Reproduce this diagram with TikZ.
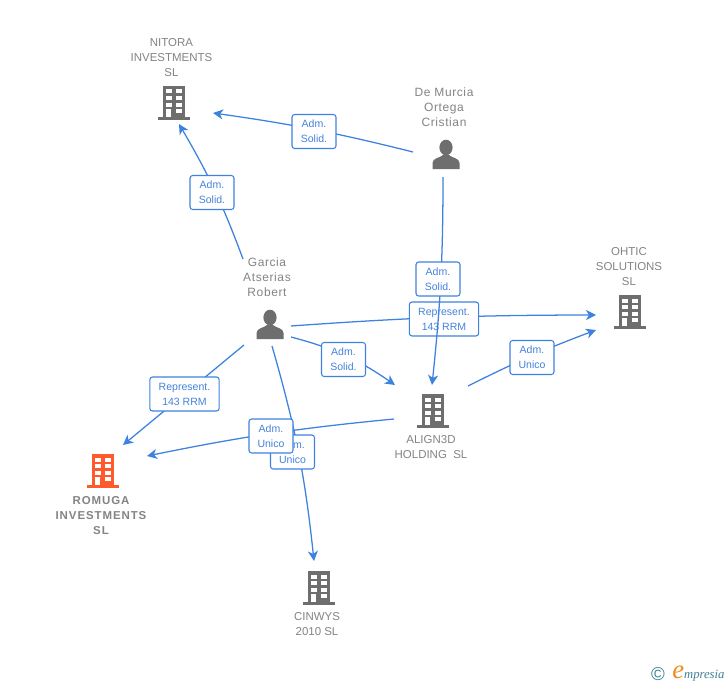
\documentclass[tikz,border=0pt]{standalone}
\usepackage{fontspec}
\setmainfont{Liberation Sans}
\newfontfamily\logofont{Liberation Serif}
\usetikzlibrary{arrows.meta}
\definecolor{linkblue}{HTML}{3E82E0}
\definecolor{labelblue}{HTML}{4482DC}
\definecolor{namegrey}{HTML}{848484}
\definecolor{icongrey}{HTML}{6E6E6E}
\definecolor{iconred}{HTML}{FF5A2B}
\definecolor{logoteal}{HTML}{3F7F96}
\definecolor{logoorange}{HTML}{F28A1E}
\tikzset{
  x=0.75pt,y=-0.75pt,
  link/.style={draw=linkblue,line width=0.95pt,-{Stealth[length=7.5pt,width=7.5pt,inset=2.2pt]}},
  tag/.style={draw=linkblue,line width=0.8pt,fill=white,rounded corners=2pt,text=labelblue,
    font=\fontsize{7.9pt}{11.2pt}\selectfont,align=center,inner sep=0pt,minimum height=25.5pt},
  tagshort/.style={tag,minimum width=33pt},
  taglong/.style={tag,minimum width=52pt},
  nametext/.style={text=namegrey,font=\fontsize{8.6pt}{11.25pt}\selectfont,align=center,inner sep=0pt},
  personname/.style={nametext,font=\fontsize{9pt}{11.25pt}\selectfont\addfontfeature{LetterSpace=5}},
  boldname/.style={nametext,font=\fontsize{8.6pt}{11.25pt}\selectfont\bfseries\addfontfeature{LetterSpace=8}},
  pics/building/.style={code={
    \fill[#1] (-11,-17) rectangle (11,14.5);
    \fill[#1] (-16,14) rectangle (16,16.5);
    \foreach \yy in {-13.5,-7,-0.5}{
      \fill[white] (-8,\yy) rectangle (-2.5,{\yy+4});
      \fill[white] (2,\yy) rectangle (7.5,{\yy+4});
    }
    \fill[white] (-8,6) rectangle (-3.5,14);
    \fill[white] (2,6) rectangle (7.5,10);
  }},
  pics/person/.style={code={
    \fill[icongrey] (0,-7.5) ellipse (6.6 and 7.8);
    \fill[icongrey] (-13.5,14) -- (-13.5,8) .. controls (-13.5,3) and (-6,3) .. (-3,0)
      -- (3,0) .. controls (6,3) and (13.5,3) .. (13.5,8) -- (13.5,14) -- cycle;
  }},
}
\begin{document}
\begin{tikzpicture}
\useasboundingbox (0,0) rectangle (728,685);
\fill[white] (0,0) rectangle (728,685);

% free connector ends
\coordinate (e1s) at (413,152);  \coordinate (e1t) at (213,113);
\coordinate (e2s) at (243,259);  \coordinate (e2t) at (179,124);
\coordinate (e3s) at (443,177);  \coordinate (e3t) at (432,385);
\coordinate (e4s) at (291,326);  \coordinate (e4t) at (596,315);
\coordinate (e5s) at (291,337);  \coordinate (e5t) at (395,385);
\coordinate (e6s) at (468,386);  \coordinate (e6t) at (596,330);
\coordinate (e7s) at (244,345);  \coordinate (e7t) at (123,445);
\coordinate (e8s) at (394,419);  \coordinate (e8t) at (147,456);
\coordinate (e9s) at (272,346);  \coordinate (e9t) at (314,561);

% icons
\pic at (174,103) {building=icongrey};
\pic at (630,312) {building=icongrey};
\pic at (433,411) {building=icongrey};
\pic at (319,588) {building=icongrey};
\pic at (103,471) {building=iconred};
\pic at (446,155) {person};
\pic at (270,325) {person};

% names
\node[nametext] (nitora) at (171.5,58) {NITORA\\INVESTMENTS\\SL};
\node[personname] (demurcia) at (444,107) {De Murcia\\Ortega\\Cristian};
\node[personname] (garcia) at (267,277) {Garcia\\Atserias\\Robert};
\node[nametext] (ohtic) at (629,267) {OHTIC\\SOLUTIONS\\SL};
\node[nametext] (align) at (431,447.5) {ALIGN3D\\HOLDING\ \ SL};
\node[boldname] (romuga) at (101,516) {ROMUGA\\INVESTMENTS\\SL};
\node[nametext] (cinwys) at (317,624.5) {CINWYS\\2010 SL};

% connectors and their labels
\draw[link] (e1s) to[bend right=3] (e1t);
\node[tagshort] (t1) at (314,131.5) {Adm.\\Solid.};
\draw[link] (e2s) to[bend right=5] (e2t);
\node[tagshort] (t2) at (212,192.5) {Adm.\\Solid.};
\draw[link] (e4s) to[bend left=2] (e4t);
\node[taglong] (t4) at (444,319) {Represent.\\143 RRM};
\draw[link] (e3s) to[bend left=3] (e3t);
\node[tagshort] (t3) at (438,279) {Adm.\\Solid.};
\draw[link] (e5s) to[bend left=10] (e5t);
\node[tagshort] (t5) at (343.5,359.5) {Adm.\\Solid.};
\draw[link] (e6s) to[bend left=3] (e6t);
\node[tagshort] (t6) at (532,357.5) {Adm.\\Unico};
\draw[link] (e7s) -- (e7t);
\node[taglong] (t7) at (184.5,394) {Represent.\\143 RRM};
\draw[link] (e9s) to[bend left=5] (e9t);
\node[tagshort] (t9) at (292.5,452) {Adm.\\Unico};
\draw[link] (e8s) to[bend right=3] (e8t);
\node[tagshort] (t8) at (271,436) {Adm.\\Unico};

% logo
\node[inner sep=0pt,text=logoteal,font=\fontsize{14pt}{15pt}\selectfont] (copyr) at (658,674.5) {©};
\node[inner sep=0pt,anchor=base west,text=logoteal,font=\logofont\itshape\fontsize{9.5pt}{10pt}\selectfont] (logo) at (672,678)
  {{\color{logoorange}\fontsize{20pt}{20pt}\selectfont e}mpresia};
\end{tikzpicture}
\end{document}
